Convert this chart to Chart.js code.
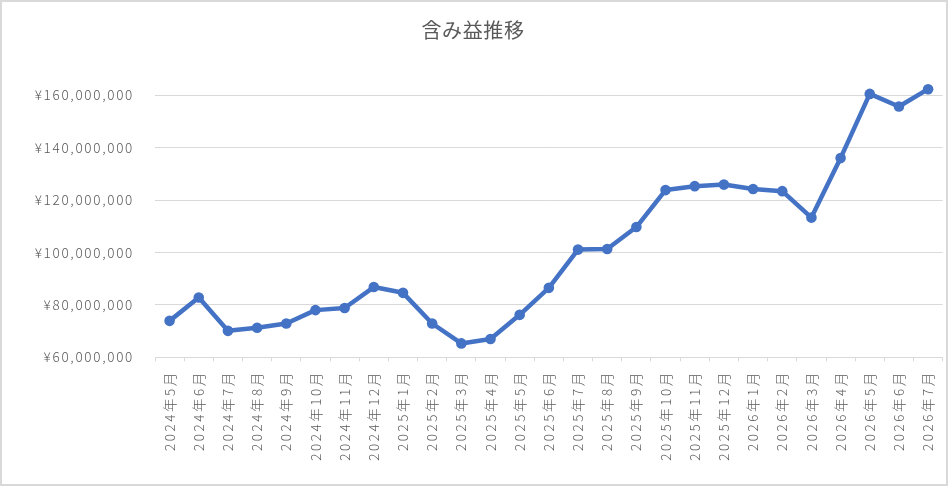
<!DOCTYPE html>
<html>
<head>
<meta charset="utf-8">
<script src="https://cdn.jsdelivr.net/npm/chart.js@4.4.1/dist/chart.umd.min.js"></script>
<style>
  html, body { margin: 0; padding: 0; background: #ffffff; }
  #wrap { width: 948px; height: 486px; position: relative; }
  canvas { display: block; }
</style>
</head>
<body>
<div id="wrap"><canvas id="c" width="948" height="486"></canvas></div>
<script>
const chartTitle = '含み益推移';
const categories = [
  '2024年5月','2024年6月','2024年7月','2024年8月','2024年9月','2024年10月','2024年11月','2024年12月',
  '2025年1月','2025年2月','2025年3月','2025年4月','2025年5月','2025年6月','2025年7月','2025年8月',
  '2025年9月','2025年10月','2025年11月','2025年12月',
  '2026年1月','2026年2月','2026年3月','2026年4月','2026年5月','2026年6月','2026年7月'
];
const unrealizedGain = [
  73900000, 82800000, 70100000, 71300000, 72900000, 78000000, 78800000, 86800000,
  84600000, 72900000, 65300000, 67000000, 76200000, 86500000, 101100000, 101300000,
  109700000, 123800000, 125300000, 125900000,
  124200000, 123400000, 113300000, 136000000, 160500000, 155700000, 162300000
];
const yTickValues = [60000000, 80000000, 100000000, 120000000, 140000000, 160000000];
const yMin = 60000000;
const yMax = 170000000;

const FONT = "'Noto Sans CJK JP', 'Noto Sans', sans-serif";
const TEXT = '#595959';
const GRID = '#d9d9d9';

const spacingPlugin = {
  id: 'spacing',
  afterLayout(chart) {
    const cfg = [['x', 2.5], ['y', 1.7]];
    for (const [id, sp] of cfg) {
      const s = chart.scales[id];
      if (s && !s._spWrapped) {
        const orig = s.drawLabels;
        s.drawLabels = function (area) {
          const c = this.ctx;
          c.save();
          c.letterSpacing = sp + 'px';
          orig.call(this, area);
          c.restore();
        };
        s._spWrapped = true;
      }
    }
    const t = chart.titleBlock;
    if (t && !t._spWrapped) {
      const origT = t.draw;
      t.draw = function (area) {
        const c = this.ctx;
        c.save();
        c.letterSpacing = '0.6px';
        origT.call(this, area);
        c.restore();
      };
      t._spWrapped = true;
    }
  }
};

const framePlugin = {
  id: 'frame',
  beforeDraw(chart) {
    const c = chart.ctx;
    c.save();
    c.fillStyle = '#ffffff';
    c.fillRect(0, 0, chart.width, chart.height);
    c.restore();
  },
  afterDraw(chart) {
    const c = chart.ctx;
    c.save();
    c.strokeStyle = GRID;
    c.lineWidth = 2;
    c.strokeRect(1, 1, chart.width - 2, chart.height - 2);
    c.restore();
  }
};

new Chart(document.getElementById('c'), {
  type: 'line',
  data: {
    labels: categories,
    datasets: [{
      data: unrealizedGain,
      borderColor: '#4472C4',
      backgroundColor: '#4472C4',
      borderWidth: 4.5,
      borderJoinStyle: 'round',
      borderCapStyle: 'round',
      pointRadius: 5.3,
      pointHoverRadius: 5.3,
      pointBackgroundColor: '#4472C4',
      pointBorderWidth: 0,
      tension: 0,
      fill: false
    }]
  },
  options: {
    responsive: false,
    animation: false,
    devicePixelRatio: 1,
    layout: { padding: { left: 0, right: 2, top: 0, bottom: 0 } },
    plugins: {
      legend: { display: false },
      tooltip: { enabled: false },
      title: {
        display: true,
        text: chartTitle,
        color: TEXT,
        font: { family: FONT, size: 20, weight: 'normal', lineHeight: 1.2 },
        padding: { top: 18, bottom: 27 }
      }
    },
    scales: {
      x: {
        type: 'category',
        offset: true,
        grid: {
          offset: true,
          drawOnChartArea: false,
          drawTicks: true,
          tickLength: 4,
          tickColor: GRID,
          tickWidth: 1
        },
        border: { display: true, color: GRID, width: 1 },
        ticks: {
          autoSkip: false,
          minRotation: 90,
          maxRotation: 90,
          padding: 9,
          color: TEXT,
          font: { family: FONT, size: 13.5, weight: 300 }
        },
        afterFit(scale) {
          scale.height = 128.7;
          scale.paddingLeft = 0;
          scale.paddingRight = 0;
        }
      },
      y: {
        type: 'linear',
        min: yMin,
        max: yMax,
        grid: { color: GRID, lineWidth: 1, drawTicks: false },
        border: { display: false },
        ticks: {
          padding: 21,
          color: TEXT,
          font: { family: FONT, size: 13.5, weight: 300 },
          callback: (v) => '¥' + Number(v).toLocaleString('en-US')
        },
        afterBuildTicks(scale) {
          scale.ticks = yTickValues.map(v => ({ value: v }));
        },
        afterFit(scale) {
          scale.width = 155;
          scale.paddingTop = 0;
          scale.paddingBottom = 0;
        }
      }
    }
  },
  plugins: [spacingPlugin, framePlugin]
});
</script>
</body>
</html>
